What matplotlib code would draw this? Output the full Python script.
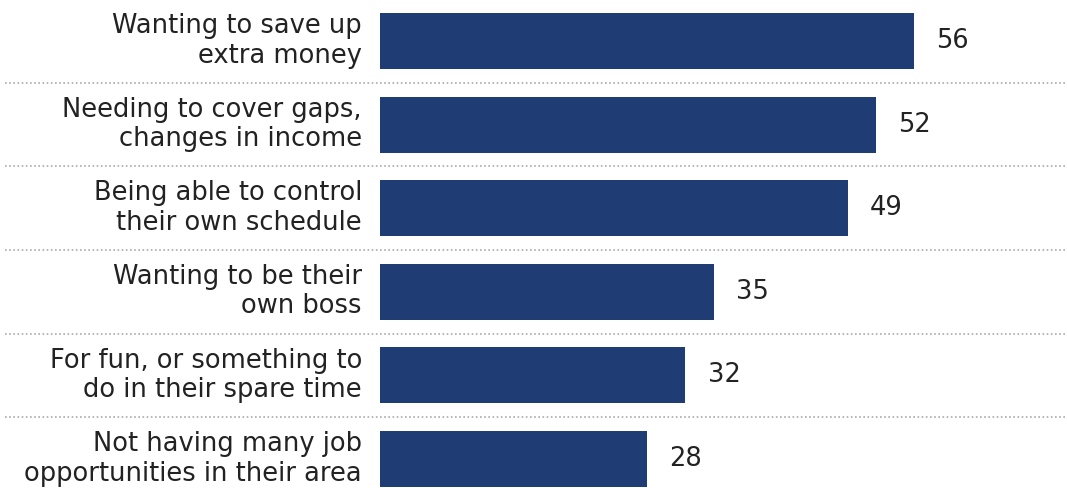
import matplotlib.pyplot as plt
import matplotlib.transforms as mtransforms

labels = [
    "Wanting to save up\nextra money",
    "Needing to cover gaps,\nchanges in income",
    "Being able to control\ntheir own schedule",
    "Wanting to be their\nown boss",
    "For fun, or something to\ndo in their spare time",
    "Not having many job\nopportunities in their area",
]
values = [56, 52, 49, 35, 32, 28]

bar_color = "#1f3c74"
text_color = "#222222"

fig = plt.figure(figsize=(10.67, 4.88), dpi=100)
ax = fig.add_axes([380 / 1067, 0, 687 / 1067, 1])

ypos = list(range(len(values)))
ax.barh(ypos, values, height=0.67, color=bar_color)
ax.set_xlim(0, 72)
ax.set_ylim(5.347, -0.49)
ax.axis("off")

for y, v, lab in zip(ypos, values, labels):
    ax.annotate(str(v), (v, y), xytext=(16, 0), textcoords="offset points",
                ha="left", va="center", fontsize=18.5, color=text_color,
                family="DejaVu Sans")
    ax.annotate(lab, (0, y), xytext=(-13, 0), textcoords="offset points",
                ha="right", va="center", fontsize=18.5, color=text_color,
                family="DejaVu Sans", linespacing=1.17, annotation_clip=False)

# dotted separators across the whole figure
blend = mtransforms.blended_transform_factory(fig.transFigure, ax.transData)
for y in ypos[:-1]:
    ax.plot([0.005, 1], [y + 0.5, y + 0.5], transform=blend, clip_on=False,
            color="#aaaaaa", linestyle=(0, (1, 1.5)), linewidth=1.2)

fig.savefig("out.png", dpi=100)
